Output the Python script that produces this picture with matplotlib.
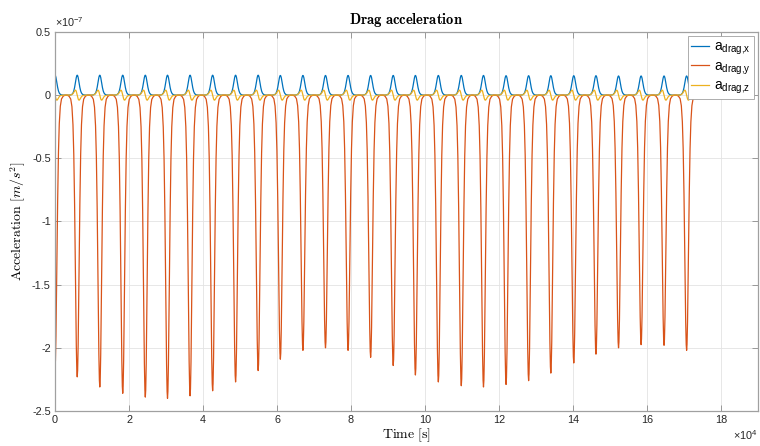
import numpy as np
import matplotlib.pyplot as plt
from matplotlib.ticker import FuncFormatter, MultipleLocator

# MATLAB-like look: Helvetica-ish ticks, Computer Modern labels
plt.rcParams['font.family'] = ['Liberation Sans', 'DejaVu Sans']
plt.rcParams['axes.unicode_minus'] = False
plt.rcParams['mathtext.fontset'] = 'custom'
plt.rcParams['mathtext.rm'] = 'Liberation Sans'
plt.rcParams['mathtext.it'] = 'Liberation Sans:italic'
plt.rcParams['mathtext.bf'] = 'Liberation Sans:bold'

# perigee pass times [s] and peak drag per pass [m/s^2]
pass_times = [0, 6000, 12100, 18300, 24400, 30400, 36500, 42600, 48800, 54900,
              60900, 67000, 73100, 79200, 85300, 91400, 97400, 103600, 109800,
              115800, 121900, 128000, 134000, 140200, 146200, 152300, 158400,
              164600, 170700]
ax_peak = [0.158, 0.158, 0.158, 0.158, 0.158, 0.158, 0.158, 0.158, 0.158, 0.158,
           0.156, 0.156, 0.156, 0.156, 0.156, 0.156, 0.156, 0.156, 0.156, 0.156,
           0.154, 0.154, 0.154, 0.154, 0.154, 0.152, 0.152, 0.152, 0.152]
ay_peak = [-2.15, -2.23, -2.31, -2.36, -2.39, -2.40, -2.38, -2.34, -2.27, -2.18,
           -2.09, -2.02, -2.00, -2.02, -2.075, -2.14, -2.215, -2.27, -2.30, -2.31,
           -2.29, -2.26, -2.20, -2.12, -2.05, -2.00, -1.975, -1.98, -2.02]
az_peak = [0.04] * 29
t_end = 172800

# shape of one perigee pass (offset from perigee [s], normalised value)
pass_offset = [0, 110, 250, 385, 550, 710, 930, 1150, 1430, 1750, 2200, 2700]
pass_shape = [1.0, 0.977, 0.888, 0.752, 0.564, 0.388, 0.21, 0.105, 0.041, 0.014, 0.004, 0.0]
pass_shape_z = [0.0, 0.365, 0.738, 0.95, 0.99, 0.84, 0.55, 0.30, 0.12, 0.04, 0.007, 0.0]

off = np.array(pass_offset, dtype=float)
shp = np.array(pass_shape)
shz = np.array(pass_shape_z)
off_full = np.concatenate([-off[:0:-1], off])
shp_full = np.concatenate([shp[:0:-1], shp])
shz_full = np.concatenate([shz[:0:-1], -shz])

t = np.concatenate([tp + off_full for tp in pass_times])
a_x = np.concatenate([p * shp_full for p in ax_peak]) * 1e-7
a_y = np.concatenate([p * shp_full for p in ay_peak]) * 1e-7
a_z = np.concatenate([p * shz_full for p in az_peak]) * 1e-7
keep = (t >= 0) & (t <= t_end)
t, a_x, a_y, a_z = t[keep], a_x[keep], a_y[keep], a_z[keep]

fig = plt.figure(figsize=(7.6, 4.46), dpi=100)
ax = fig.add_axes([0.0724, 0.0785, 0.925, 0.8498])

ax.plot(t, a_x, color='#0072BD', lw=0.9, label=r'a$_{\mathregular{drag{,}x}}$')
ax.plot(t, a_y, color='#D95319', lw=0.9, label=r'a$_{\mathregular{drag{,}y}}$')
ax.plot(t, a_z, color='#EDB120', lw=0.9, label=r'a$_{\mathregular{drag{,}z}}$')

ax.set_xlim(0, 19e4)
ax.set_ylim(-2.5e-7, 0.5e-7)
ax.xaxis.set_major_locator(MultipleLocator(2e4))
ax.yaxis.set_major_locator(MultipleLocator(0.5e-7))
ax.xaxis.set_major_formatter(FuncFormatter(lambda v, p: f'{v / 1e4:g}'))
ax.yaxis.set_major_formatter(FuncFormatter(lambda v, p: f'{round(v / 1e-7, 2):g}'))

ax.grid(True, color='#e3e3e3', lw=0.6)
ax.set_axisbelow(True)
for s in ax.spines.values():
    s.set_color('#a0a0a0')
    s.set_linewidth(0.9)
ax.tick_params(direction='in', length=4, width=0.6, top=True, right=True,
               color='#8c8c8c', labelcolor='#262626', labelsize=7.8, pad=3)

ax.text(0.0, 1.008, r'$\times$10$^{\mathregular{-7}}$', transform=ax.transAxes,
        ha='left', va='bottom', fontsize=7.8, color='#262626')
ax.text(1.0, -0.045, r'$\times$10$^{\mathregular{4}}$', transform=ax.transAxes,
        ha='right', va='top', fontsize=7.8, color='#262626')

ax.set_title(r'$\mathbf{Drag\ acceleration}$', math_fontfamily='cm',
             fontsize=10.5, pad=6)
ax.set_xlabel(r'$\mathrm{Time\ [s]}$', math_fontfamily='cm', fontsize=10, labelpad=1)
ax.set_ylabel(r'$\mathrm{Acceleration}\ [m/s^2]$', math_fontfamily='cm',
              fontsize=10, labelpad=3)

leg = ax.legend(loc='upper right', fontsize=10, fancybox=False, framealpha=1,
                edgecolor='#a0a0a0', borderaxespad=0.3, handlelength=1.3,
                handletextpad=0.3, labelspacing=0.15, borderpad=0.25)
leg.get_frame().set_linewidth(0.6)

fig.savefig('out.png', dpi=100)
